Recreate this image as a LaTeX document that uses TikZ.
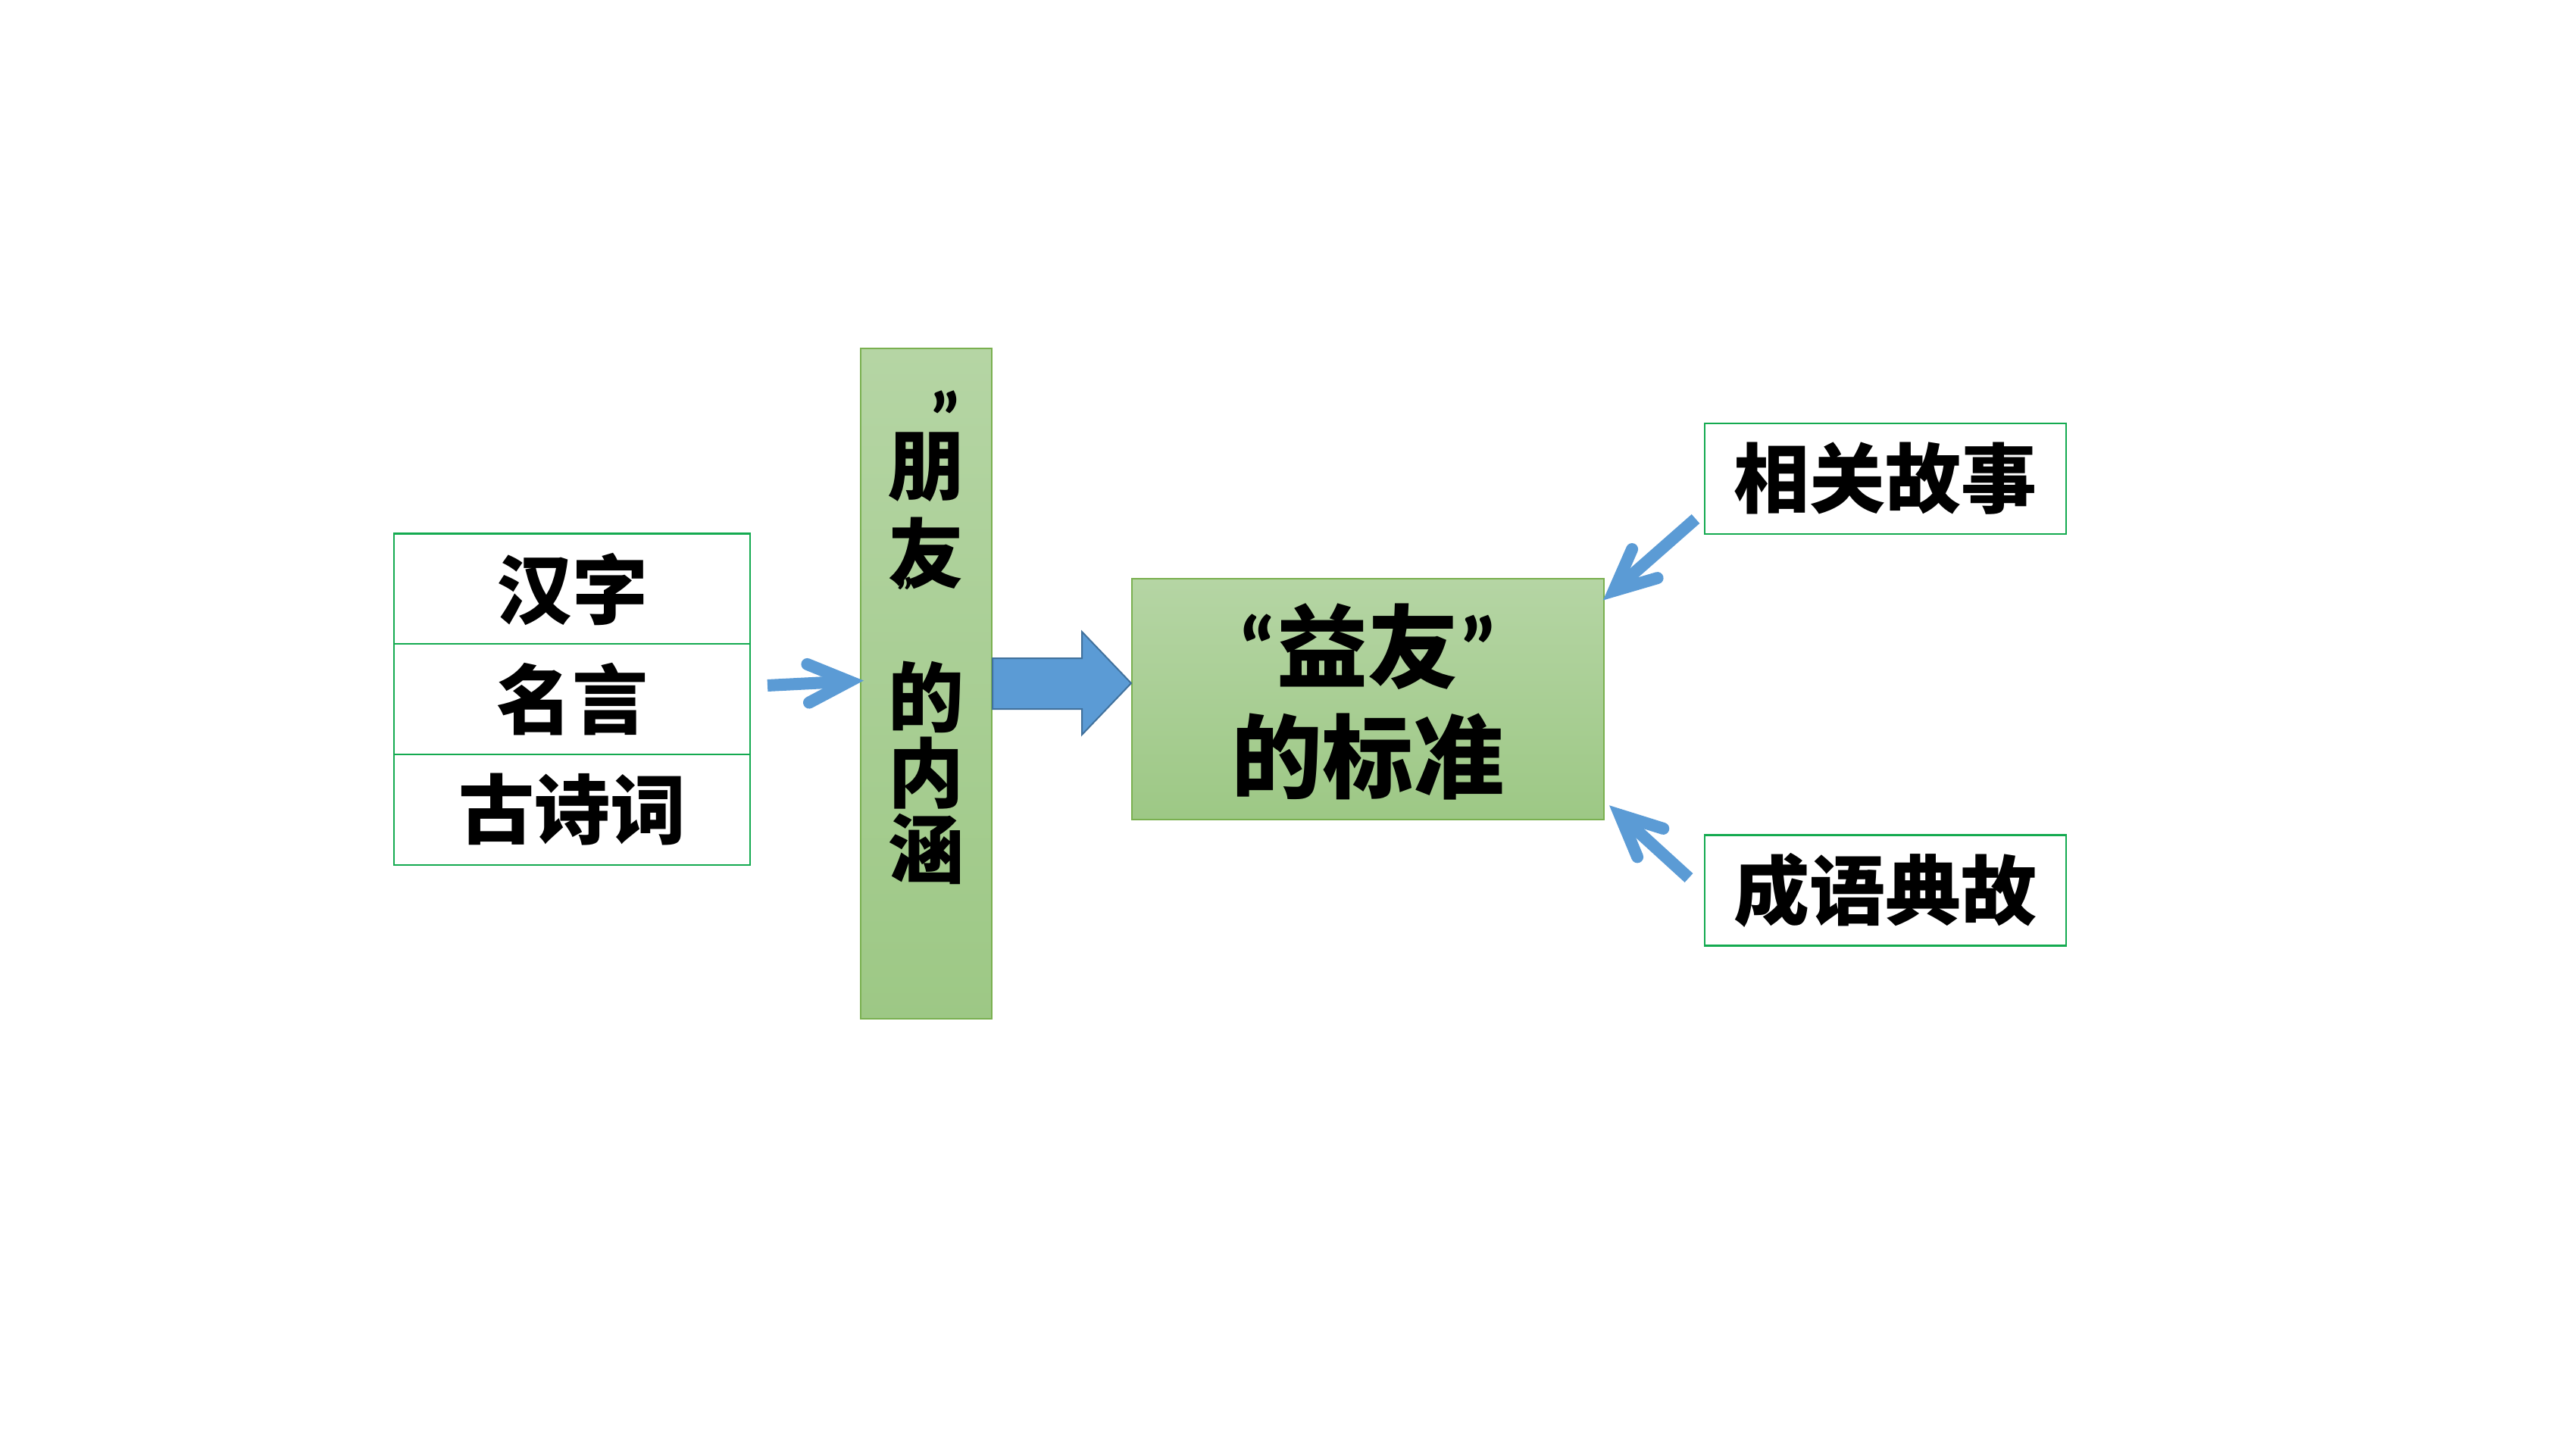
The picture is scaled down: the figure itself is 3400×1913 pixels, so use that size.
\documentclass[tikz,border=0pt]{standalone}
\usepackage{fontspec}
\newfontfamily\cjk{Noto Sans CJK SC}
\newfontfamily\qfont{Carlito}
\usetikzlibrary{calc}
\definecolor{boxgreen}{RGB}{20,170,80}
\definecolor{fillTop}{RGB}{181,213,164}
\definecolor{fillBot}{RGB}{157,200,133}
\definecolor{edgeGreen}{RGB}{122,176,80}
\definecolor{arrowBlue}{RGB}{91,155,213}
\definecolor{arrowEdge}{RGB}{65,113,156}
\tikzset{
  x=0.25pt, y=-0.25pt,
  txt/.style={font=\cjk\bfseries\fontsize{25}{30}\selectfont, text=black},
  whitebox/.style={draw=boxgreen, line width=0.55pt, fill=white, inner sep=0pt, minimum width=117.5pt, minimum height=36.5pt, txt},
  rightbox/.style={draw=boxgreen, line width=0.55pt, fill=white, inner sep=0pt, minimum width=119.25pt, minimum height=36.5pt, txt},
  greenbox/.style={draw=edgeGreen, line width=0.5pt, top color=fillTop, bottom color=fillBot, inner sep=0pt},
  shaft/.style={draw=arrowBlue, line width=4pt, line cap=butt},
  wing/.style={draw=arrowBlue, line width=4pt, line cap=round, line join=miter},
  quote/.style={inner sep=0pt, text=black, font=\qfont\bfseries\fontsize{25}{25}\selectfont},
}
\begin{document}
\begin{tikzpicture}
\useasboundingbox[fill=white] (0,0) rectangle (3400,1913);

% left stacked boxes
\node[whitebox] (hanzi) at (755,777.5) {汉字};
\node[whitebox] (mingyan) at (755,923) {名言};
\node[whitebox] (gushici) at (755,1069) {古诗词};

% vertical bar
\node[greenbox, minimum width=43.25pt, minimum height=221.25pt] (bar) at (1222.5,902.5) {};
\node[quote] (vq1) at (1248,552) {”};
\node[txt, align=center, inner sep=0pt, font=\cjk\bfseries\fontsize{25}{29}\selectfont] (vtext1) at (1222,674) {朋\\友};
\node[quote, font=\qfont\bfseries\fontsize{14}{14}\selectfont] (vq2) at (1195,782) {”};
\node[txt, align=center, inner sep=0pt, font=\cjk\bfseries\fontsize{25}{25}\selectfont] (vtext2) at (1222,1020) {的\\内\\涵};

% big box
\node[greenbox, minimum width=155.75pt, minimum height=79.5pt] (std) at (1805.5,923) {};
\node[txt, align=center, inner sep=0pt, font=\cjk\bfseries\fontsize{30}{36.25}\selectfont] (stdtext) at (1805.5,926) {{\qfont\bfseries “}益友{\qfont\bfseries ”}\\的标准};

% right boxes
\node[rightbox] (story) at (2488.5,632) {相关故事};
\node[rightbox] (idiom) at (2488.5,1175.5) {成语典故};

% block arrow bar -> std
\draw[fill=arrowBlue, draw=arrowEdge, line width=0.5pt, line join=miter]
  (bar.east |- 0,869) -- (1428,869) -- (1428,834) -- (std.west |- 0,902) -- (1428,970) -- (1428,936) -- (bar.east |- 0,936) -- cycle;

% thin arrows
\coordinate (la1) at (1013,905);
\coordinate (la2) at (1121,899.5);
\draw[shaft] (la1) -- (la2);
\draw[wing] ($(la2)!15pt!25:(la1)$) -- (la2) -- ($(la2)!15pt!-25:(la1)$);

\coordinate (ua1) at (2238,685);
\coordinate (ua2) at (2130,780);
\draw[shaft] (ua1) -- (ua2);
\draw[wing] ($(ua2)!15pt!25:(ua1)$) -- (ua2) -- ($(ua2)!15pt!-25:(ua1)$);

\coordinate (da1) at (2229,1159);
\coordinate (da2) at (2138,1076);
\draw[shaft] (da1) -- (da2);
\draw[wing] ($(da2)!15pt!25:(da1)$) -- (da2) -- ($(da2)!15pt!-25:(da1)$);
\end{tikzpicture}
\end{document}
